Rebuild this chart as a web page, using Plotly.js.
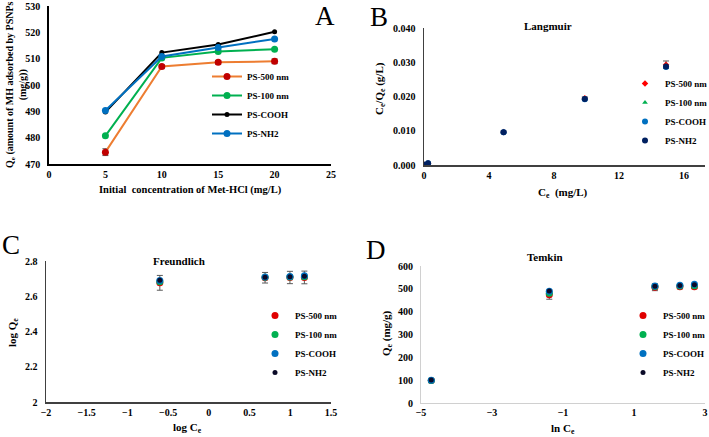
<!DOCTYPE html>
<html><head><meta charset="utf-8">
<script src="https://cdn.plot.ly/plotly-3.0.1.min.js"></script>
<style>html,body{margin:0;padding:0;background:#fff;}#chart{width:709px;height:437px;}</style>
</head><body><div id="chart"></div>
<script>
// ---- data ----
const seriesNames = ['PS-500 nm', 'PS-100 nm', 'PS-COOH', 'PS-NH2'];
const initConc = [5, 10, 15, 20];              // panel A x (mg/L)
const ce = [0.009, 0.25, 4.9, 9.9, 14.9];       // equilibrium concentration (mg/L)
const qe500  = [98, 474.5, 507.0, 508.6, 509.0];
const qe100  = [99, 480.7, 510.3, 512.7, 513.6];
const qeCOOH = [100, 489.7, 512.3, 515.4, 520.2];
const qeNH2  = [101, 490.3, 510.8, 514.2, 517.5];
const errA500 = [1.3, 0.6, 0.7, 0.9];
const errB500 = [0, 0.0002, 0.0003, 0.0004, 0.0011];
const errC500 = [0, 0.042, 0.03, 0.035, 0.036];
const errD500 = [4, 20, 15, 8, 8];

const W = 709, H = 437;
const px = x => x / W, py = y => 1 - y / H;
const serif = 'Liberation Serif, Times New Roman, serif';
const qAll = [qe500, qe100, qeCOOH, qeNH2];

const lineCols = ['#ED7D31', '#00B050', '#000000', '#0070C0'];
const markCols = ['#C00000', '#00B050', '#000000', '#0070C0'];
const markSizeA = [7, 7, 5, 7];
const colsB = ['#FF0000', '#00B050', '#0070C0', '#002060'];
const symB = ['diamond', 'triangle-up', 'circle', 'circle'];
const sizeB = [5, 5, 6, 6];
const colsCD = ['#E00000', '#00B050', '#0070C0', '#0A0A28'];
const sizeCD = [7, 7, 7, 5];
const errStyle = (arr) => ({type: 'data', array: arr, visible: true, color: '#595959', thickness: 1, width: 3});

const traces = [];
// Panel A
qAll.forEach((q, i) => {
  traces.push({
    x: initConc, y: q.slice(1), type: 'scatter', mode: 'lines+markers', name: seriesNames[i],
    line: {color: lineCols[i], width: 2}, marker: {color: markCols[i], size: markSizeA[i]},
    error_y: i === 0 ? errStyle(errA500) : undefined,
    xaxis: 'x', yaxis: 'y', legend: 'legend'
  });
});
// Panel B: Langmuir Ce/Qe vs Ce
qAll.forEach((q, i) => {
  traces.push({
    x: ce, y: ce.map((c, k) => c / q[k]), type: 'scatter', mode: 'markers', name: seriesNames[i],
    marker: {color: colsB[i], size: sizeB[i], symbol: symB[i]},
    error_y: i === 0 ? errStyle(errB500) : undefined,
    xaxis: 'x2', yaxis: 'y2', legend: 'legend2'
  });
});
// Panel C: Freundlich log Qe vs log Ce
qAll.forEach((q, i) => {
  traces.push({
    x: ce.map(c => Math.log10(c)), y: q.map(v => Math.log10(v)), type: 'scatter', mode: 'markers', name: seriesNames[i],
    marker: {color: colsCD[i], size: sizeCD[i]},
    error_y: i === 0 ? errStyle(errC500) : undefined,
    xaxis: 'x3', yaxis: 'y3', legend: 'legend3', cliponaxis: true
  });
});
// Panel D: Temkin Qe vs ln Ce
qAll.forEach((q, i) => {
  traces.push({
    x: ce.map(c => Math.log(c)), y: q, type: 'scatter', mode: 'markers', name: seriesNames[i],
    marker: {color: colsCD[i], size: sizeCD[i]},
    error_y: i === 0 ? errStyle(errD500) : undefined,
    xaxis: 'x4', yaxis: 'y4', legend: 'legend4'
  });
});

const tickFont = {family: serif, size: 10, weight: 'bold', color: '#000'};
const ax = (dom, range, dtick, extra) => Object.assign({
  domain: dom, range: range, dtick: dtick, tick0: range[0], showgrid: false, zeroline: false,
  showline: true, linecolor: '#404040', linewidth: 1.5, ticks: '', tickfont: tickFont,
  fixedrange: true
}, extra || {});
const yax = (dom, range, dtick, extra) => ax(dom, range, dtick, Object.assign({ticklabelstandoff: 5}, extra || {}));

const legendFont = {family: serif, size: 9, weight: 'bold', color: '#000'};
const leg = (x, y) => ({x: px(x), y: py(y), xanchor: 'left', yanchor: 'top', xref: 'paper', yref: 'paper',
  font: legendFont, bgcolor: 'rgba(0,0,0,0)', borderwidth: 0, itemwidth: 30, tracegroupgap: 0});

const ann = (text, x, y, size, opts) => Object.assign({
  text: text, x: px(x), y: py(y), xref: 'paper', yref: 'paper', showarrow: false,
  xanchor: 'center', yanchor: 'middle', font: {family: serif, size: size, weight: 'bold', color: '#000'}
}, opts || {});
const letter = (t, x, y) => ann(t, x, y, 27, {font: {family: serif, size: 27, color: '#000'}});

const layout = {
  width: W, height: H, margin: {l: 0, r: 0, t: 0, b: 0, autoexpand: false},
  paper_bgcolor: '#fff', plot_bgcolor: '#fff', showlegend: true,
  xaxis:  ax([px(49), px(331)], [0, 25], 5, {anchor: 'y', linecolor: '#000', linewidth: 1.8}),
  yaxis:  yax([py(164), py(6)], [470, 530], 10, {anchor: 'x', linecolor: '#000', linewidth: 1.8}),
  xaxis2: ax([px(424), px(705)], [0, 17.3], 4, {anchor: 'y2', tick0: 0}),
  yaxis2: yax([py(165), py(28)], [0, 0.04], 0.01, {anchor: 'x2', tickformat: '.3f'}),
  xaxis3: ax([px(46), px(331)], [-2, 1.5], 0.5, {anchor: 'y3'}),
  yaxis3: yax([py(402), py(261)], [2, 2.8], 0.2, {anchor: 'x3'}),
  xaxis4: ax([px(421), px(705)], [-5, 3], 2, {anchor: 'y4', linecolor: '#d0d0d0', linewidth: 1.2}),
  yaxis4: yax([py(403), py(266)], [0, 600], 100, {anchor: 'x4', linecolor: '#d0d0d0', linewidth: 1}),
  legend: leg(207, 62),
  legend2: leg(625, 69),
  legend3: leg(255, 301),
  legend4: leg(623, 301),
  annotations: [
    letter('A', 325, 16), letter('B', 379, 17), letter('C', 11, 245), letter('D', 376, 250),
    ann('Langmuir', 548, 26, 11), ann('Freundlich', 179, 261, 11), ann('Temkin', 545, 257, 11),
    ann('Initial  concentration of Met-HCl (mg/L)', 190, 190, 10.5),
    ann('Q<sub>e</sub> (amount of MH adsorbed by PSNPs<br>(mg/g))', 16, 85, 10, {textangle: -90}),
    ann('C<sub>e</sub>  (mg/L)', 563, 193, 11),
    ann('C<sub>e</sub>/Q<sub>e</sub> (g/L)', 380, 89, 11, {textangle: -90}),
    ann('log C<sub>e</sub>', 188, 428, 11),
    ann('log Q<sub>e</sub>', 13, 333, 11, {textangle: -90}),
    ann('ln C<sub>e</sub>', 563, 429, 11),
    ann('Q<sub>e</sub> (mg/g)', 387, 333, 11, {textangle: -90})
  ]
};

Plotly.newPlot('chart', traces, layout, {staticPlot: true, displayModeBar: false});
</script>
</body></html>
